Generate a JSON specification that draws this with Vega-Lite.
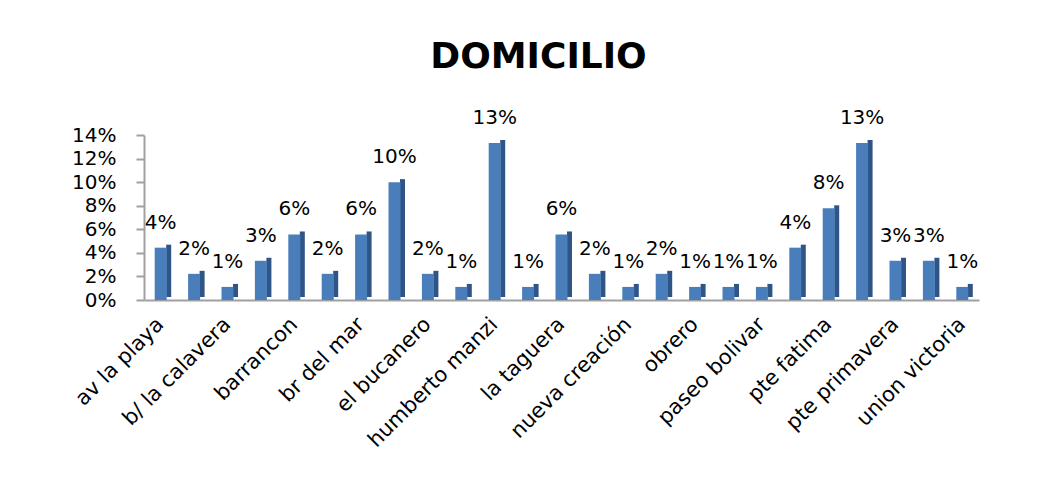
{
  "$schema": "https://vega.github.io/schema/vega-lite/v6.json",
  "width": 835,
  "height": 165,
  "autosize": {"type": "none"},
  "padding": {"left": 144, "top": 135, "right": 81, "bottom": 187},
  "background": "white",
  "config": {"view": {"stroke": null}, "font": "DejaVu Sans"},
  "title": {"text": "DOMICILIO", "fontSize": 36, "fontWeight": "bold", "font": "DejaVu Sans", "color": "black", "anchor": "middle", "dx": -23, "offset": 32},
  "data": {"values": [
    {"barrio": "av la playa", "orden": 1, "pct": 0.0444},
    {"barrio": "(2)", "orden": 2, "pct": 0.0222},
    {"barrio": "b/ la calavera", "orden": 3, "pct": 0.0111},
    {"barrio": "(4)", "orden": 4, "pct": 0.0333},
    {"barrio": "barrancon", "orden": 5, "pct": 0.0556},
    {"barrio": "(6)", "orden": 6, "pct": 0.0222},
    {"barrio": "br del mar", "orden": 7, "pct": 0.0556},
    {"barrio": "(8)", "orden": 8, "pct": 0.1},
    {"barrio": "el bucanero", "orden": 9, "pct": 0.0222},
    {"barrio": "(10)", "orden": 10, "pct": 0.0111},
    {"barrio": "humberto manzi", "orden": 11, "pct": 0.1333},
    {"barrio": "(12)", "orden": 12, "pct": 0.0111},
    {"barrio": "la taguera", "orden": 13, "pct": 0.0556},
    {"barrio": "(14)", "orden": 14, "pct": 0.0222},
    {"barrio": "nueva creación", "orden": 15, "pct": 0.0111},
    {"barrio": "(16)", "orden": 16, "pct": 0.0222},
    {"barrio": "obrero", "orden": 17, "pct": 0.0111},
    {"barrio": "(18)", "orden": 18, "pct": 0.0111},
    {"barrio": "paseo bolivar", "orden": 19, "pct": 0.0111},
    {"barrio": "(20)", "orden": 20, "pct": 0.0444},
    {"barrio": "pte fatima", "orden": 21, "pct": 0.0778},
    {"barrio": "(22)", "orden": 22, "pct": 0.1333},
    {"barrio": "pte primavera", "orden": 23, "pct": 0.0333},
    {"barrio": "(24)", "orden": 24, "pct": 0.0333},
    {"barrio": "union victoria", "orden": 25, "pct": 0.0111}
  ]},
  "encoding": {
    "x": {"field": "barrio", "type": "nominal", "sort": {"field": "orden"},
      "scale": {"paddingInner": 0, "paddingOuter": 0},
      "axis": {"title": null, "labelAngle": -45, "labelAlign": "right", "labelBaseline": "middle",
        "labelFontSize": 21, "labelColor": "black", "labelPadding": 21, "ticks": false,
        "domainColor": "#a0a0a0", "domainWidth": 2, "labelOverlap": false,
        "labelExpr": "test(/^\\(/, datum.label) ? '' : datum.label"}},
    "y": {"field": "pct", "type": "quantitative",
      "scale": {"domain": [0, 0.14], "nice": false},
      "axis": {"title": null, "format": ".0%", "values": [0, 0.02, 0.04, 0.06, 0.08, 0.1, 0.12, 0.14],
        "labelFontSize": 20, "labelColor": "black", "grid": false, "tickSize": 8, "tickColor": "#a0a0a0",
        "domainColor": "#a0a0a0", "domainWidth": 2, "tickWidth": 2, "labelPadding": 20}}
  },
  "layer": [
    {"mark": {"type": "bar", "size": 5, "color": "#2f5587", "xOffset": 8, "yOffset": -3}},
    {"mark": {"type": "bar", "size": 12, "color": "#4a7ebb", "xOffset": 0}},
    {"mark": {"type": "text", "baseline": "alphabetic", "dy": -19, "fontSize": 20, "color": "black"},
      "encoding": {"text": {"field": "pct", "type": "quantitative", "format": ".0%"}}}
  ]
}
